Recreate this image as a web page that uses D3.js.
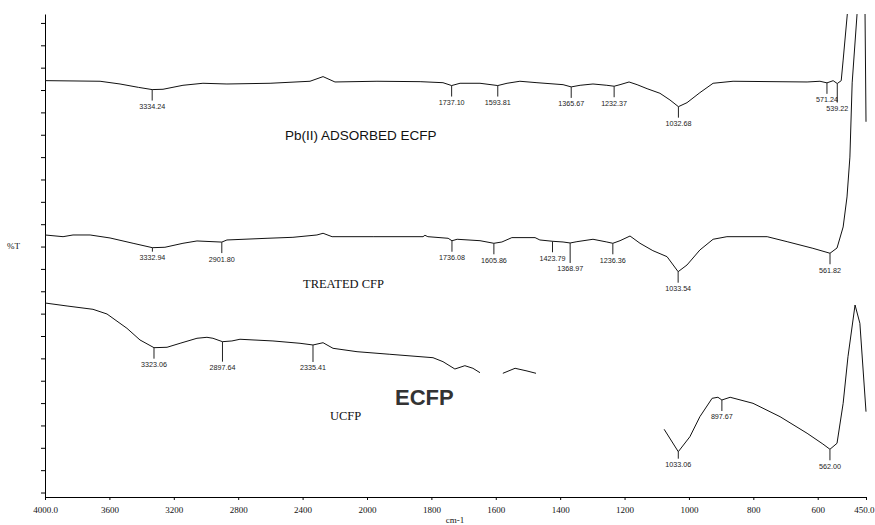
<!DOCTYPE html>
<html>
<head>
<meta charset="utf-8">
<script src="https://cdn.jsdelivr.net/npm/d3@7"></script>
<style>
  body { margin: 0; background: #fff; }
  svg { display: block; }
</style>
</head>
<body>
<svg id="chart" width="875" height="525"></svg>
<script>
// FTIR spectra: [wavenumber (cm-1), %T]; null breaks the trace
const pbAdsorbed = [
  [4000, 92.1], [3658, 91.96], [3534, 91.35], [3420, 90.6], [3334.24, 90.1], [3267, 90.17],
  [3143, 91.06], [3019, 91.51], [2870, 91.35], [2602, 91.51], [2354, 91.96], [2273, 93.0],
  [2199, 91.8], [1969, 91.96], [1835, 91.87], [1764, 91.64], [1737.10, 91.0], [1711, 91.51],
  [1649, 91.51], [1593.81, 91.0], [1565, 91.51], [1525, 91.96], [1472, 91.64], [1391, 91.2],
  [1365.67, 90.7], [1338, 91.06], [1298, 91.35], [1255, 91.06], [1232.37, 90.85], [1214, 91.2],
  [1186, 91.8], [1161, 91.2], [1130, 90.3], [1090, 89.27], [1059, 87.78], [1032.68, 86.28],
  [1006, 87.17], [966, 89.41], [925, 91.51], [863, 91.96], [633, 91.8], [593, 91.96],
  [571.24, 91.6], [552, 92.09], [539.22, 91.45], [527, 92.09], [521, 96.7], [508, 107],
  [502, 113], [456, 113], [453, 107], [450, 82.9]
];

const treatedCfp = [
  [4000, 57.59], [3888, 57.21], [3826, 57.59], [3720, 57.59], [3596, 56.92], [3453, 55.73],
  [3332.94, 54.75], [3255, 54.84], [3143, 55.73], [3056, 56.25], [2901.80, 56.0], [2870, 56.47],
  [2621, 56.85], [2460, 57.07], [2311, 57.59], [2273, 57.97], [2217, 57.21], [1981, 57.21],
  [1826, 57.21], [1820, 57.52], [1811, 57.21], [1748, 56.85], [1736.08, 56.3], [1720, 56.63],
  [1649, 56.31], [1605.86, 55.73], [1581, 56.02], [1550, 57.0], [1478, 57.0], [1463, 56.47],
  [1423.79, 56.18], [1391, 56.02], [1368.97, 55.8], [1348, 56.09], [1298, 56.63], [1255, 56.02],
  [1236.36, 55.73], [1214, 56.31], [1183, 57.36], [1152, 55.73], [1112, 54.08], [1068, 52.74],
  [1033.54, 49.38], [1006, 50.88], [966, 54.23], [925, 56.63], [882, 57.21], [757, 57.21],
  [695, 56.09], [615, 54.61], [561.82, 53.5], [540, 54.68], [521, 59.38], [509, 66.09],
  [500, 75.0], [493, 91.6], [478, 106.8], [472, 113]
];

const ucfp = [
  [4000, 42.38], [3863, 41.71], [3702, 40.97], [3615, 39.92], [3491, 36.72], [3410, 34.11],
  [3323.06, 32.39], [3242, 32.48], [3161, 33.37], [3056, 34.49], [2994, 34.71], [2957, 34.49],
  [2897.64, 33.73], [2839, 33.89], [2789, 34.27], [2584, 33.89], [2416, 33.37], [2335.41, 32.99],
  [2273, 33.5], [2211, 32.25], [2062, 31.49], [1929, 30.91], [1795, 30.15], [1764, 29.26],
  [1727, 27.62], [1696, 28.36], [1671, 27.78], [1649, 26.8],
  [1610, null],
  [1578, 26.66], [1540, 27.78], [1503, 27.18], [1475, 26.66],
  [1200, null],
  [1077, 14.14], [1033.06, 9.13], [997, 12.48], [966, 16.96], [928, 21.07], [910, 21.3],
  [897.67, 20.69], [872, 21.3], [801, 19.95], [717, 16.96], [633, 13.25], [584, 10.85],
  [562.00, 9.67], [540, 11.01], [521, 19.95], [506, 30.37], [484, 41.93], [469, 37.84],
  [450, 18.08]
];

// labelled band positions (cm-1)
const pbPeaks = [3334.24, 1737.10, 1593.81, 1365.67, 1232.37, 1032.68, 571.24, 539.22];
const treatedPeaks = [3332.94, 2901.80, 1736.08, 1605.86, 1423.79, 1368.97, 1236.36, 1033.54, 561.82];
const ucfpPeaks = [3323.06, 2897.64, 2335.41, 1033.06, 897.67, 562.00];

// axis ticks
const xTicks = [4000, 3600, 3200, 2800, 2400, 2000, 1800, 1600, 1400, 1200, 1000, 800, 600, 450];
const yTicks = d3.range(0, 106, 5);

// ---- layout ----
const svg = d3.select("#chart");
const plot = { left: 45, right: 866, top: 14, bottom: 497 };

// wavenumber axis is expanded below 2000 cm-1
const x = d3.scaleLinear().domain([4000, 2000, 450]).range([plot.left, 367, plot.right]);
const y = d3.scaleLinear().domain([-1, 107]).range([plot.bottom, plot.top]);

svg.append("defs").append("clipPath").attr("id", "plot-clip")
  .append("rect")
  .attr("x", plot.left).attr("y", plot.top)
  .attr("width", plot.right - plot.left + 2).attr("height", plot.bottom - plot.top);

// bottom axis
const xAxis = d3.axisBottom(x)
  .tickValues(xTicks)
  .tickFormat(d => (d === 4000 || d === 450) ? d.toFixed(1) : String(d))
  .tickSizeInner(3).tickSizeOuter(0).tickPadding(7);
const gx = svg.append("g").attr("transform", `translate(0,${plot.bottom})`).call(xAxis);
gx.selectAll("text")
  .attr("font-family", "'Liberation Serif', 'Times New Roman', serif")
  .attr("font-size", 9).attr("fill", "#111");
gx.selectAll("line, path").attr("stroke", "#000");
// keep the last label inside the frame
gx.selectAll(".tick").filter(d => d === 450).select("text")
  .attr("text-anchor", "end").attr("x", 8);

// left axis (unlabelled)
const yAxis = d3.axisLeft(y).tickValues(yTicks).tickFormat("")
  .tickSizeInner(4).tickSizeOuter(0);
const gy = svg.append("g").attr("transform", `translate(${plot.left},0)`).call(yAxis);
gy.selectAll("line, path").attr("stroke", "#000");

svg.append("text")
  .attr("x", 7).attr("y", 249)
  .attr("font-family", "'Liberation Serif', 'Times New Roman', serif")
  .attr("font-size", 9).attr("fill", "#111")
  .text("%T");

svg.append("text")
  .attr("x", 455).attr("y", 523).attr("text-anchor", "middle")
  .attr("font-family", "'Liberation Serif', 'Times New Roman', serif")
  .attr("font-size", 9).attr("fill", "#111")
  .text("cm-1");

// ---- spectra ----
const line = d3.line()
  .defined(d => d[1] != null)
  .x(d => x(d[0]))
  .y(d => y(d[1]));

const traces = svg.append("g").attr("clip-path", "url(#plot-clip)");
[pbAdsorbed, treatedCfp, ucfp].forEach(series => {
  traces.append("path")
    .datum(series)
    .attr("d", line)
    .attr("fill", "none")
    .attr("stroke", "#111")
    .attr("stroke-width", 1)
    .attr("stroke-linejoin", "round");
});

// %T of a trace at a given wavenumber
function valueAt(series, wn) {
  const pts = series.filter(d => d[1] != null);
  for (let i = 0; i < pts.length - 1; i++) {
    const a = pts[i], b = pts[i + 1];
    if (wn <= a[0] && wn >= b[0]) {
      const t = (a[0] - wn) / (a[0] - b[0]);
      return a[1] + t * (b[1] - a[1]);
    }
  }
  return null;
}

// extra drop (px) for crowded band labels
const labelDrop = { "1368.97": 9, "539.22": 8, "2897.64": 9, "2335.41": 6, "3332.94": -7, "1033.06": -4 };

function drawPeaks(series, peaks) {
  const g = svg.append("g");
  peaks.forEach(wn => {
    const label = wn.toFixed(2);
    const px = x(wn);
    const py = y(valueAt(series, wn));
    const len = 11 + (labelDrop[label] || 0);
    g.append("line")
      .attr("x1", px).attr("x2", px)
      .attr("y1", py).attr("y2", py + len)
      .attr("stroke", "#222").attr("stroke-width", 1);
    g.append("text")
      .attr("x", px).attr("y", py + len + 8.5)
      .attr("text-anchor", "middle")
      .attr("font-family", "'Liberation Sans', Arial, sans-serif")
      .attr("font-size", 7.2)
      .attr("fill", "#222")
      .text(label);
  });
}
drawPeaks(pbAdsorbed, pbPeaks);
drawPeaks(treatedCfp, treatedPeaks);
drawPeaks(ucfp, ucfpPeaks);

// ---- sample captions ----
svg.append("text")
  .attr("x", 285).attr("y", 140)
  .attr("font-family", "'Liberation Sans', Arial, sans-serif")
  .attr("font-size", 13.5).attr("fill", "#111")
  .text("Pb(II) ADSORBED ECFP");

svg.append("text")
  .attr("x", 303).attr("y", 288)
  .attr("font-family", "'Liberation Serif', 'Times New Roman', serif")
  .attr("font-size", 12.5).attr("fill", "#111")
  .text("TREATED CFP");

svg.append("text")
  .attr("x", 330).attr("y", 420)
  .attr("font-family", "'Liberation Serif', 'Times New Roman', serif")
  .attr("font-size", 12.5).attr("fill", "#111")
  .text("UCFP");

svg.append("text")
  .attr("x", 395).attr("y", 405)
  .attr("font-family", "'Liberation Sans', Arial, sans-serif")
  .attr("font-size", 22).attr("font-weight", "bold").attr("fill", "#333")
  .text("ECFP");
</script>
</body>
</html>
